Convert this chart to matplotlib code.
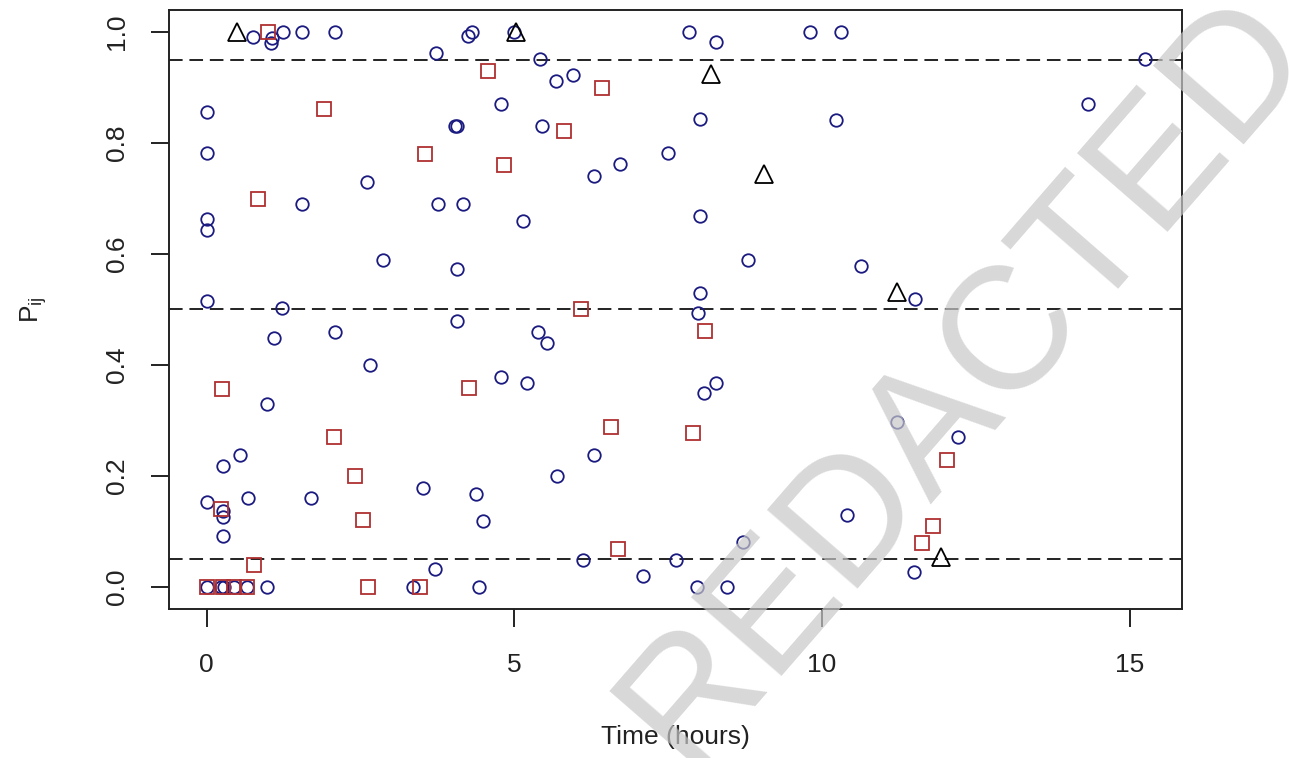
import numpy as np
import matplotlib.pyplot as plt

plt.rcParams['font.family'] = ['Liberation Sans', 'DejaVu Sans']
plt.rcParams['mathtext.fontset'] = 'custom'
plt.rcParams['mathtext.rm'] = 'Liberation Sans'
plt.rcParams['mathtext.it'] = 'Liberation Sans'

# circles (navy)
circ_x = [0.76, 1.06, 1.04, 1.24, 1.55, 2.09, 4.25, 4.31, 3.73, 0.0, 4.03, 4.07,
          0.0, 2.61, 1.55, 3.76, 4.16, 0.0, 0.0, 2.87, 4.07, 0.0, 1.23, 4.07,
          5.0, 7.84, 8.28, 9.80, 5.42, 5.68, 5.96, 4.79, 5.45, 8.01, 6.72, 6.30,
          7.50, 5.15, 8.01, 8.80, 8.01, 7.98, 10.31, 15.24, 14.32, 10.23, 10.63, 11.51,
          1.10, 2.09, 2.66, 0.98, 0.54, 0.26, 3.52, 4.38, 0.0, 0.67, 1.69, 0.27,
          0.27, 4.50, 0.26, 3.72, 0.0, 0.23, 0.29, 0.45, 0.66, 0.98, 3.36, 4.42,
          5.39, 5.53, 4.79, 5.21, 8.27, 8.08, 6.30, 5.70, 8.71, 6.12, 7.63, 7.09,
          7.97, 8.45, 11.22, 12.21, 10.41, 11.50]
circ_y = [0.992, 0.99, 0.98, 1.0, 1.0, 1.0, 0.994, 1.0, 0.962, 0.856, 0.831, 0.831,
          0.783, 0.73, 0.691, 0.691, 0.691, 0.663, 0.644, 0.59, 0.573, 0.515, 0.502, 0.48,
          1.0, 1.0, 0.983, 1.0, 0.952, 0.912, 0.923, 0.870, 0.831, 0.843, 0.762, 0.740,
          0.783, 0.66, 0.669, 0.59, 0.529, 0.493, 1.0, 0.952, 0.870, 0.842, 0.579, 0.519,
          0.449, 0.459, 0.40, 0.329, 0.238, 0.217, 0.178, 0.167, 0.153, 0.16, 0.16, 0.137,
          0.125, 0.119, 0.091, 0.032, 0.0, 0.0, 0.0, 0.0, 0.0, 0.0, 0.0, 0.0,
          0.459, 0.439, 0.378, 0.368, 0.368, 0.35, 0.238, 0.199, 0.080, 0.0485, 0.0485, 0.0195,
          0.0, 0.0, 0.298, 0.27, 0.129, 0.027]

# squares (red)
sq_x = [1.0, 4.57, 1.91, 3.55, 0.83, 6.43, 5.81, 4.84, 6.08, 0.25, 4.27, 2.07,
        2.41, 0.24, 2.54, 0.77, 0.0, 0.27, 0.45, 0.66, 2.63, 3.47, 8.10, 6.58,
        7.91, 6.69, 12.03, 11.81, 11.62]
sq_y = [1.0, 0.93, 0.861, 0.781, 0.70, 0.90, 0.821, 0.76, 0.50, 0.356, 0.359, 0.27,
        0.199, 0.140, 0.121, 0.039, 0.0, 0.0, 0.0, 0.0, 0.0, 0.0, 0.461, 0.289,
        0.278, 0.068, 0.229, 0.109, 0.079]

# triangles (black)
tri_x = [0.50, 5.03, 8.19, 9.05, 11.22, 11.93]
tri_y = [1.0, 1.0, 0.924, 0.744, 0.532, 0.053]

cutoffs = [0.05, 0.5, 0.95]

fig = plt.figure(figsize=(12.9, 7.58), dpi=100)
ax = fig.add_axes([0.131, 0.1966, 0.7853, 0.7902])

ax.plot(circ_x, circ_y, 'o', ms=9, mfc='none', mec='#1a1a80', mew=1.3, zorder=3)
ax.plot(sq_x, sq_y, 's', ms=10.5, mfc='none', mec='#b03030', mew=1.3, zorder=3)
ax.plot(tri_x, tri_y, '^', ms=12.5, mfc='none', mec='black', mew=1.3, zorder=3)

for c in cutoffs:
    ax.axhline(c, color='#222222', lw=1.4, dashes=(7, 3.5), zorder=2)

# R style 4% padding
all_x = np.array(circ_x + sq_x + tri_x)
xr = all_x.max() - all_x.min()
ax.set_xlim(all_x.min() - 0.04 * xr, all_x.max() + 0.04 * xr)
ax.set_ylim(-0.04, 1.04)

ax.set_xticks([0, 5, 10, 15])
ax.set_yticks([0.0, 0.2, 0.4, 0.6, 0.8, 1.0])
ax.set_yticklabels(['0.0', '0.2', '0.4', '0.6', '0.8', '1.0'], rotation=90, va='center')
ax.tick_params(direction='out', length=13, width=1.4, labelsize=19, colors='#222222')
ax.tick_params(axis='x', pad=19)
ax.tick_params(axis='y', pad=16)
for s in ax.spines.values():
    s.set_linewidth(1.4)
    s.set_color('#222222')

ax.set_xlabel('Time (hours)', fontsize=19, labelpad=34, color='#222222')
ax.set_ylabel(r'$\mathregular{P_{ij}}$', fontsize=19, labelpad=40, color='#222222')

# watermark
fig.text(0.748, 0.499, 'REDACTED', fontsize=125, rotation=49, color='#c8c8c8',
         alpha=0.7, ha='center', va='center', zorder=10)

fig.savefig('out.png', dpi=100)
